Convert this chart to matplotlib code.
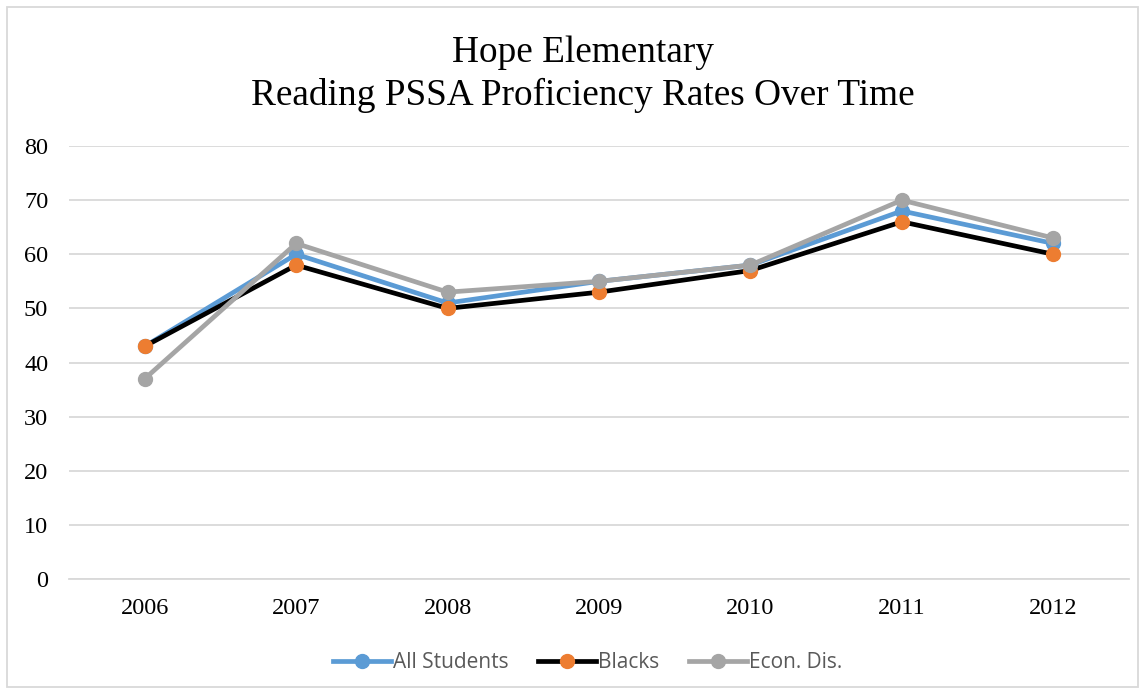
import matplotlib.pyplot as plt
from matplotlib.patches import Rectangle

years = ["2006", "2007", "2008", "2009", "2010", "2011", "2012"]
all_students = [43, 60, 51, 55, 58, 68, 62]
blacks = [43, 58, 50, 53, 57, 66, 60]
econ_dis = [37, 62, 53, 55, 58, 70, 63]


def main():
    fig = plt.figure(figsize=(11.45, 6.94), dpi=100)
    ax = fig.add_axes([0.0603, 0.1657, 0.9257, 0.6239])

    x = range(len(years))
    ax.plot(x, all_students, color='#5B9BD5', lw=3.4, marker='o', ms=10,
            mfc='#5B9BD5', mec='#5B9BD5', label='All Students')
    ax.plot(x, blacks, color='black', lw=3.4, marker='o', ms=10,
            mfc='#ED7D31', mec='#ED7D31', label='Blacks')
    ax.plot(x, econ_dis, color='#A5A5A5', lw=3.4, marker='o', ms=10,
            mfc='#A5A5A5', mec='#A5A5A5', label='Econ. Dis.')

    ax.set_xlim(-0.5, len(years) - 0.5)
    ax.set_ylim(0, 80)
    ax.set_yticks(range(0, 81, 10))
    ax.set_xticks(list(x))
    ax.set_xticklabels(years)
    ax.grid(axis='y', color='#D9D9D9', lw=1.3)
    ax.set_axisbelow(True)
    for s in ['top', 'right', 'left']:
        ax.spines[s].set_visible(False)
    ax.spines['bottom'].set_color('#D9D9D9')
    ax.spines['bottom'].set_linewidth(1.3)
    ax.tick_params(length=0, labelsize=17.5)
    ax.tick_params(axis='x', pad=14)
    ax.tick_params(axis='y', pad=15)
    for lab in ax.get_xticklabels() + ax.get_yticklabels():
        lab.set_fontfamily('Liberation Serif')

    # va='baseline' lines up the last line here
    fig.text(0.509, 1 - 105 / 694, 'Hope Elementary\nReading PSSA Proficiency Rates Over Time',
             ha='center', va='baseline', fontsize=26.8, family='Liberation Serif',
             linespacing=1.28)

    leg = fig.legend(loc='center', bbox_to_anchor=(0.513, 0.045), ncol=3,
                     frameon=False, prop={'family': 'Open Sans', 'size': 15},
                     handlelength=2.8, columnspacing=1.4, handletextpad=0.1)
    for t in leg.get_texts():
        t.set_color('#595959')

    fig.patches.append(Rectangle((0.006, 0.01), 0.988, 0.98, transform=fig.transFigure,
                                 fill=False, edgecolor='#D9D9D9', lw=1.3))

    fig.savefig('out.png', dpi=100)


if __name__ == "__main__":
    main()
